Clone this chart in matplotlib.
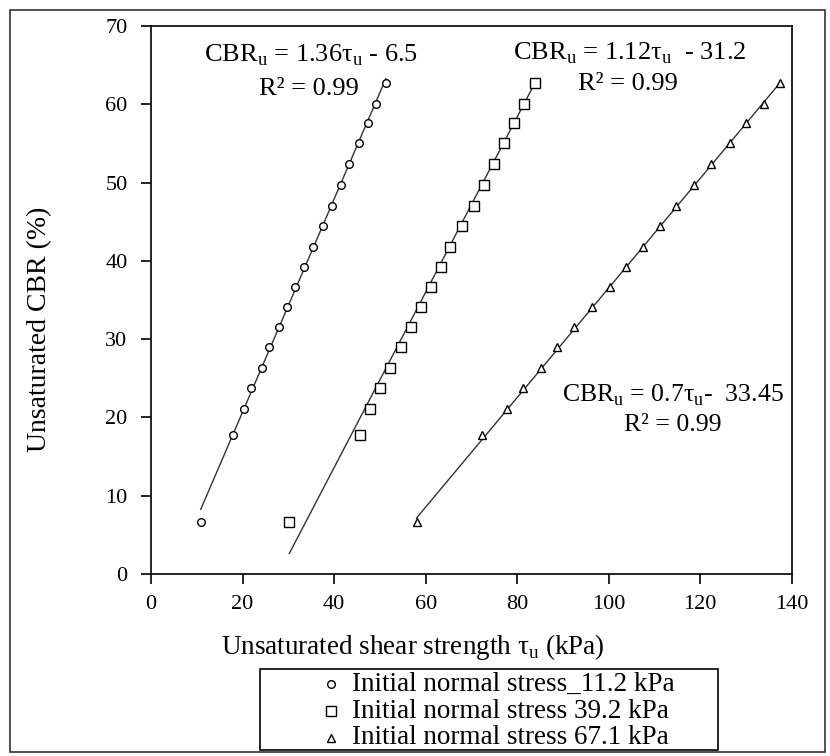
import numpy as np
import matplotlib
matplotlib.use("Agg")
import matplotlib.pyplot as plt
from matplotlib.patches import Rectangle
from matplotlib.lines import Line2D

plt.rcParams["font.family"] = ["Liberation Serif", "DejaVu Serif"]
plt.rcParams["mathtext.fontset"] = "custom"
plt.rcParams["mathtext.rm"] = "Liberation Serif"

# CBR levels (%) shared by the three test series
cbr = [6.6, 17.8, 21.1, 23.7, 26.3, 29.0, 31.5, 34.1, 36.7, 39.2,
       41.8, 44.4, 47.0, 49.7, 52.4, 55.0, 57.6, 60.1, 62.7]

# unsaturated shear strength (kPa) for each initial normal stress
tau_11 = [10.85, 18.0, 20.2, 21.8, 24.2, 25.7, 27.9, 29.6, 31.4, 33.5,
          35.4, 37.5, 39.5, 41.4, 43.3, 45.4, 47.5, 49.1, 51.3]
tau_39 = [30.2, 45.6, 47.8, 50.0, 52.3, 54.7, 56.8, 58.9, 61.1, 63.3,
          65.4, 67.9, 70.6, 72.8, 75.0, 77.2, 79.3, 81.5, 83.9]
tau_67 = [58.0, 72.2, 77.7, 81.2, 85.2, 88.6, 92.5, 96.3, 100.2, 103.7,
          107.4, 111.2, 114.7, 118.7, 122.3, 126.4, 129.9, 133.9, 137.4]

labels = ["Initial normal stress_11.2 kPa",
          "Initial normal stress 39.2 kPa",
          "Initial normal stress 67.1 kPa"]
markers = ["o", "s", "^"]
msizes = [5.5, 7, 6]

# linear fits: slope, intercept
fits = [(1.36, -6.5), (1.12, -31.2), (0.7, -33.45)]
eq_text = [r"CBR$_{\mathregular{u}}$ = 1.36τ$_{\mathregular{u}}$ - 6.5",
           r"CBR$_{\mathregular{u}}$ = 1.12τ$_{\mathregular{u}}$  - 31.2",
           r"CBR$_{\mathregular{u}}$ = 0.7τ$_{\mathregular{u}}$-  33.45"]
eq_pos = [(35.0, 66.3), (104.6, 66.5), (114.1, 22.8)]
eq_size = [19, 19, 18.5]
r2_pos = [(34.4, 62.0), (104.3, 62.6), (113.9, 19.0)]

W, H = 830, 756


def fig_xy(x, y):
    # pixel position -> figure fraction
    return x / W, 1 - y / H


fig = plt.figure(figsize=(W / 100, H / 100), dpi=100)
ax = fig.add_axes([0.182, 0.2407, 0.772, 0.7249])

for tau, m, ms, (a, b) in zip([tau_11, tau_39, tau_67], markers, msizes, fits):
    xs = np.linspace(min(tau), max(tau), 50)
    ax.plot(xs, a * xs + b, color="#333333", lw=1.0, zorder=1)
    ax.plot(tau, cbr, linestyle="none", marker=m, ms=ms, mfc="white",
            mec="black", mew=1.0, zorder=2)

for txt, (x, y), fs in zip(eq_text, eq_pos, eq_size):
    ax.text(x, y, txt, ha="center", va="center", fontsize=fs)
for (x, y), fs in zip(r2_pos, eq_size):
    ax.text(x, y, "R² = 0.99", ha="center", va="center", fontsize=fs)

ax.set_xlim(0, 140)
ax.set_ylim(0, 70)
ax.set_xticks(np.arange(0, 141, 20))
ax.set_yticks(np.arange(0, 71, 10))
ax.tick_params(direction="out", length=7, width=1.2, labelsize=16, colors="black")
ax.tick_params(axis="y", pad=10)
ax.tick_params(axis="x", pad=8)
for s in ax.spines.values():
    s.set_linewidth(1.2)

ax.set_xlabel("Unsaturated shear strength τ$_{\mathregular{u}}$ (kPa)", fontsize=19.5)
ax.xaxis.set_label_coords(0.409, -0.105)
ax.set_ylabel("Unsaturated CBR (%)", fontsize=20)
ax.yaxis.set_label_coords(-0.155, 0.447)

# legend box drawn below the axes
x0, y0 = fig_xy(260, 750)
x1, y1 = fig_xy(718, 669)
fig.patches.append(Rectangle((x0, y0), x1 - x0, y1 - y0, fill=False,
                             edgecolor="black", lw=1.2, transform=fig.transFigure))
for i, (lab, m, ms) in enumerate(zip(labels, markers, msizes)):
    mx, my = fig_xy(331, 684 + 27 * i)
    fig.add_artist(Line2D([mx], [my], marker=m, ms=ms, mfc="white", mec="black",
                          mew=1.0, linestyle="none", transform=fig.transFigure))
    tx, _ = fig_xy(352, 0)
    fig.text(tx, my, lab, ha="left", va="center", fontsize=19.5)

# outer frame
fig.patches.append(Rectangle((10 / W, 4 / H), 815 / W, 742 / H, fill=False,
                             edgecolor="#333333", lw=1.2, transform=fig.transFigure))

fig.savefig("out.png", dpi=100)
